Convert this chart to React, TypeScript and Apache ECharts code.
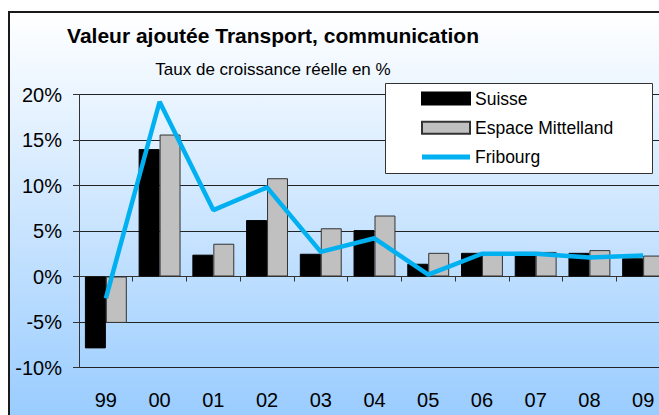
import React, { useEffect, useRef } from "react";
import * as echarts from "echarts";

const categories = ["99", "00", "01", "02", "03", "04", "05", "06", "07", "08", "09"];
const suisse = [-7.9, 14.0, 2.4, 6.2, 2.5, 5.1, 1.4, 2.6, 2.7, 2.6, 2.0];
const mittelland = [-5.1, 15.6, 3.6, 10.8, 5.3, 6.7, 2.6, 2.4, 2.7, 2.9, 2.3];
const fribourg = [-2.4, 19.2, 7.3, 9.8, 2.7, 4.2, 0.2, 2.5, 2.5, 2.1, 2.3];

const titleText = "Valeur ajoutée Transport, communication";
const subtitleText = "Taux de croissance réelle en %";
const FONT = "'Liberation Sans', Arial, sans-serif";

export default function App() {
  const ref = useRef<HTMLDivElement>(null);
  useEffect(() => {
    if (!ref.current) return;
    const chart = echarts.init(ref.current, undefined, { renderer: "svg" });
    chart.setOption({
      animation: false,
      backgroundColor: {
        type: "linear",
        x: 0, y: 0, x2: 0, y2: 1,
        colorStops: [
          { offset: 0, color: "#ffffff" },
          { offset: 1, color: "#99ccff" },
        ],
      },
      textStyle: { fontFamily: FONT },
      graphic: [
        {
          type: "text",
          x: 263, y: 22, z: 10,
          style: {
            text: titleText,
            fontFamily: FONT, fontSize: 21, fontWeight: "bold", fill: "#000",
            textAlign: "center", textVerticalAlign: "middle",
          },
        },
        {
          type: "text",
          x: 263, y: 56, z: 10,
          style: {
            text: subtitleText,
            fontFamily: FONT, fontSize: 17, fill: "#000",
            textAlign: "center", textVerticalAlign: "middle",
          },
        },
        {
          type: "rect",
          z: 50,
          shape: { x: 375.5, y: 70.5, width: 267, height: 90 },
          style: { fill: "#ffffff", stroke: "#333", lineWidth: 1 },
        },
      ],
      legend: {
        orient: "vertical",
        left: 411, top: 76.5,
        padding: 0,
        z: 60,
        itemWidth: 48, itemHeight: 12,
        itemGap: 11.3,
        textStyle: { fontFamily: FONT, fontSize: 17.5, color: "#000", lineHeight: 18, padding: [0, 0, 0, 0] },
        data: [
          { name: "Suisse", icon: "rect" },
          { name: "Espace Mittelland", icon: "rect" },
          { name: "Fribourg", icon: "path://M0,0 L48,0 L48,5 L0,5 Z" },
        ],
      },
      grid: { left: 69, top: 81.5, width: 591, height: 273, containLabel: false },
      xAxis: [
        {
          type: "category",
          data: categories,
          position: "bottom",
          axisLine: { show: true, onZero: true, lineStyle: { color: "#333", width: 1 } },
          axisTick: { show: true, length: 5, lineStyle: { color: "#333" } },
          axisLabel: { show: false },
          splitLine: { show: false },
        },
        {
          type: "category",
          data: categories,
          position: "bottom",
          axisLine: { show: false, onZero: false },
          axisTick: { show: false },
          axisLabel: { show: true, fontSize: 20, color: "#000", margin: 22, fontFamily: FONT },
          splitLine: { show: false },
        },
      ],
      yAxis: {
        type: "value",
        min: -10, max: 20, interval: 5,
        axisLine: { show: true, lineStyle: { color: "#333", width: 1 } },
        axisTick: { show: true, length: 6, lineStyle: { color: "#333" } },
        axisLabel: { formatter: "{value}%", fontSize: 20, color: "#000", margin: 17, fontFamily: FONT },
        splitLine: { show: true, lineStyle: { color: "#222", width: 1 } },
      },
      series: [
        {
          name: "Suisse",
          type: "bar",
          data: suisse,
          barGap: "0%",
          barCategoryGap: "22%",
          itemStyle: { color: "#000000", borderColor: "#000", borderWidth: 1 },
        },
        {
          name: "Espace Mittelland",
          type: "bar",
          data: mittelland,
          itemStyle: { color: "#c0c0c0", borderColor: "#333", borderWidth: 1 },
        },
        {
          name: "Fribourg",
          type: "line",
          data: fribourg,
          symbol: "none",
          z: 5,
          itemStyle: { color: "#00b0f0" },
          lineStyle: { color: "#00b0f0", width: 4.5 },
        },
      ],
    });
    return () => chart.dispose();
  }, []);

  return (
    <div
      style={{
        position: "fixed", left: 8, top: 11, width: 651, height: 404, overflow: "hidden",
      }}
    >
      <div
        style={{
          width: 690, height: 410, border: "2px solid #1a1a1a", boxSizing: "border-box",
        }}
      >
        <div ref={ref} style={{ width: 686, height: 406 }} />
      </div>
    </div>
  );
}
